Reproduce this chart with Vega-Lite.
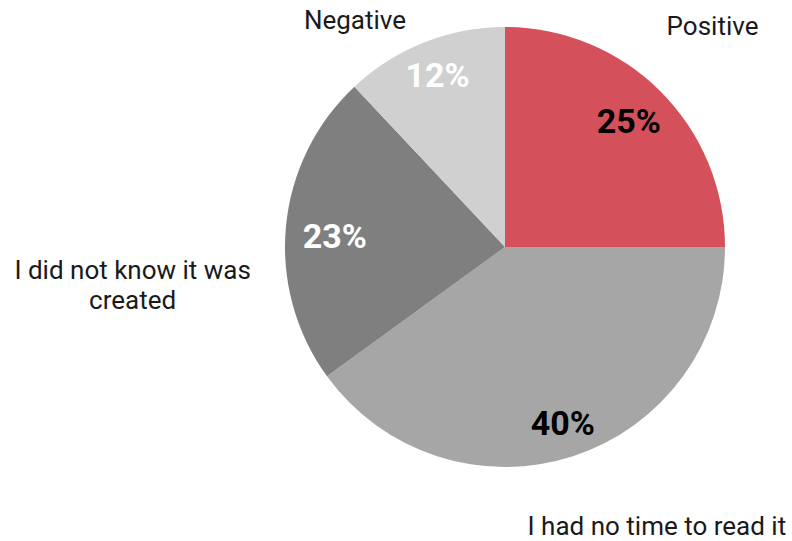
{
  "$schema": "https://vega.github.io/schema/vega-lite/v6.json",
  "autosize": {"type": "none"},
  "width": 440,
  "height": 440,
  "padding": {"left": 285, "top": 27, "right": 67, "bottom": 74},
  "background": "white",
  "config": {"view": {"stroke": null}, "text": {"font": "Roboto"}},
  "data": {
    "values": [
      {"cat": "Positive", "value": 25, "label": "25%", "rank": 1},
      {"cat": "I had no time to read it", "value": 40, "label": "40%", "rank": 2},
      {"cat": "I did not know it was created", "value": 23, "label": "23%", "rank": 3},
      {"cat": "Negative", "value": 12, "label": "12%", "rank": 4}
    ]
  },
  "encoding": {
    "theta": {"field": "value", "type": "quantitative", "stack": true},
    "order": {"field": "rank", "type": "quantitative"}
  },
  "layer": [
    {
      "mark": {"type": "arc", "radius": 220},
      "encoding": {
        "color": {
          "field": "cat",
          "type": "nominal",
          "legend": null,
          "scale": {
            "domain": ["Positive", "I had no time to read it", "I did not know it was created", "Negative"],
            "range": ["#D4515B", "#A6A6A6", "#7F7F7F", "#D0D0D0"]
          }
        }
      }
    },
    {
      "mark": {"type": "text", "radius": 175, "fontSize": 34, "fontWeight": "bold", "color": "#000000"},
      "encoding": {
        "text": {"condition": {"test": "datum.rank === 1", "field": "label"}, "value": ""}
      }
    },
    {
      "mark": {"type": "text", "radius": 187, "fontSize": 34, "fontWeight": "bold", "color": "#000000"},
      "encoding": {
        "text": {"condition": {"test": "datum.rank === 2", "field": "label"}, "value": ""}
      }
    },
    {
      "mark": {"type": "text", "radius": 171, "fontSize": 34, "fontWeight": "bold", "color": "#FFFFFF", "dy": 7},
      "encoding": {
        "text": {"condition": {"test": "datum.rank === 3", "field": "label"}, "value": ""}
      }
    },
    {
      "mark": {"type": "text", "radius": 183, "fontSize": 34, "fontWeight": "bold", "color": "#FFFFFF"},
      "encoding": {
        "text": {"condition": {"test": "datum.rank === 4", "field": "label"}, "value": ""}
      }
    },
    {
      "mark": {"type": "text", "radius": 302, "fontSize": 26, "color": "#1a1a1a", "dx": -6, "dy": -6},
      "encoding": {
        "text": {"condition": {"test": "datum.cat === 'Positive'", "field": "cat"}, "value": ""}
      }
    },
    {
      "mark": {"type": "text", "radius": 250, "fontSize": 26, "color": "#1a1a1a", "dx": -58, "dy": 6},
      "encoding": {
        "text": {"condition": {"test": "datum.cat === 'Negative'", "field": "cat"}, "value": ""}
      }
    },
    {
      "mark": {"type": "text", "radius": 294, "fontSize": 26, "color": "#1a1a1a", "dx": 61, "dy": 0},
      "encoding": {
        "text": {"condition": {"test": "datum.rank === 2", "field": "cat"}, "value": ""}
      }
    },
    {
      "mark": {"type": "text", "radius": 372, "fontSize": 26, "color": "#1a1a1a", "dx": -2, "dy": 59, "lineHeight": 30},
      "encoding": {
        "text": {"condition": {"test": "datum.rank === 3", "value": ["I did not know it was", "created"]}, "value": ""}
      }
    }
  ]
}
